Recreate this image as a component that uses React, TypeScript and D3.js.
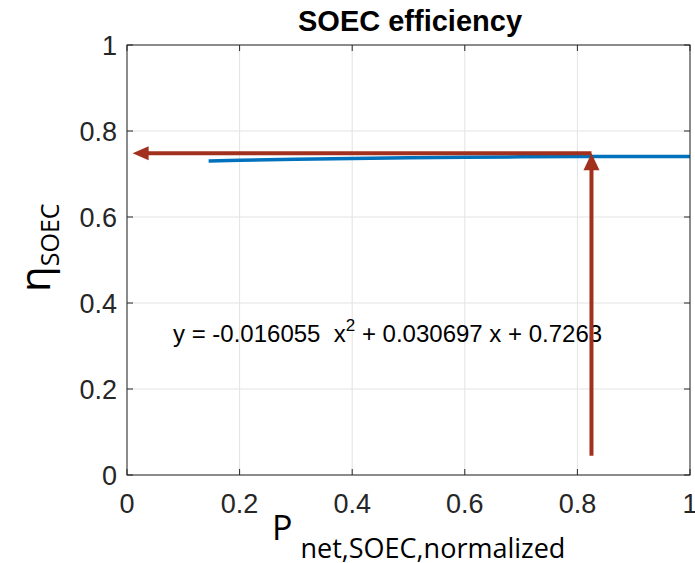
import React from 'react';
import * as d3 from 'd3';

// fitted efficiency curve
const curveX = [0.145, 0.2, 0.3, 0.4, 0.5, 0.6, 0.7, 0.8, 0.9, 1.0];
const curveY = [0.7304, 0.7319, 0.7341, 0.7360, 0.7376, 0.7389, 0.7399, 0.7406, 0.7409, 0.7409];

// red guide arrows
const operatingX = 0.825;
const operatingY = 0.748;
const arrowStartY = 0.045;
const arrowEndX = 0.01;

const xTicks = [0, 0.2, 0.4, 0.6, 0.8, 1];
const yTicks = [0, 0.2, 0.4, 0.6, 0.8, 1];

const titleText = 'SOEC efficiency';
const equationText = 'y = -0.016055\u00a0\u00a0x';
const equationRest = ' + 0.030697 x + 0.7263';

const W = 695;
const H = 563;
const m = { left: 127, right: 5, top: 45, bottom: 88 };

export default function App() {
  const x = d3.scaleLinear().domain([0, 1]).range([m.left, W - m.right]);
  const y = d3.scaleLinear().domain([0, 1]).range([H - m.bottom, m.top]);

  const line = d3
    .line<number>()
    .x((d, i) => x(curveX[i]))
    .y(d => y(d));

  const red = '#A2301F';
  const axisColor = '#262626';
  const tickFont = 'Liberation Sans, Arial, sans-serif';

  const ax = x(operatingX);
  const ay = y(operatingY);

  return (
    <svg width={W} height={H} style={{ position: 'absolute', left: 0, top: 0 }}>
      <rect x={0} y={0} width={W} height={H} fill="#fff" />
      {/* grid */}
      {xTicks.map(t => (
        <line key={'gx' + t} x1={x(t)} x2={x(t)} y1={y(0)} y2={y(1)} stroke="#e3e3e3" strokeWidth={1} />
      ))}
      {yTicks.map(t => (
        <line key={'gy' + t} x1={x(0)} x2={x(1)} y1={y(t)} y2={y(t)} stroke="#e3e3e3" strokeWidth={1} />
      ))}
      {/* equation text */}
      <text x={173} y={342} fontFamily={tickFont} fontSize={24} fill="#000">
        {equationText}
        <tspan dy={-11} fontSize={17}>2</tspan>
        <tspan dy={11}>{equationRest}</tspan>
      </text>
      {/* curve */}
      <path d={line(curveY) || ''} fill="none" stroke="#0072BD" strokeWidth={3.5} />
      {/* arrows */}
      <line x1={ax} x2={x(arrowEndX) + 14} y1={ay} y2={ay} stroke={red} strokeWidth={4} />
      <path d={`M${x(arrowEndX)},${ay} L${x(arrowEndX) + 16},${ay - 7} L${x(arrowEndX) + 16},${ay + 7} Z`} fill={red} />
      <line x1={ax} x2={ax} y1={y(arrowStartY)} y2={ay + 14} stroke={red} strokeWidth={4} />
      <path d={`M${ax},${ay} L${ax - 8},${ay + 17} L${ax + 8},${ay + 17} Z`} fill={red} />
      {/* box + ticks */}
      <rect x={x(0)} y={y(1)} width={x(1) - x(0)} height={y(0) - y(1)} fill="none" stroke={axisColor} strokeWidth={1} />
      {xTicks.map(t => (
        <g key={'tx' + t}>
          <line x1={x(t)} x2={x(t)} y1={y(0)} y2={y(0) - 6} stroke={axisColor} />
          <line x1={x(t)} x2={x(t)} y1={y(1)} y2={y(1) + 6} stroke={axisColor} />
          <text x={x(t)} y={y(0) + 38} textAnchor="middle" fontFamily={tickFont} fontSize={27} fill="#262626">
            {d3.format('~g')(t)}
          </text>
        </g>
      ))}
      {yTicks.map(t => (
        <g key={'ty' + t}>
          <line x1={x(0)} x2={x(0) + 6} y1={y(t)} y2={y(t)} stroke={axisColor} />
          <line x1={x(1)} x2={x(1) - 6} y1={y(t)} y2={y(t)} stroke={axisColor} />
          <text x={x(0) - 10} y={y(t) + 10} textAnchor="end" fontFamily={tickFont} fontSize={27} fill="#262626">
            {d3.format('~g')(t)}
          </text>
        </g>
      ))}
      {/* title */}
      <text x={410} y={31} textAnchor="middle" fontFamily={tickFont} fontWeight="bold" fontSize={29} fill="#000">
        {titleText}
      </text>
      {/* x label */}
      <text x={272} y={540} fontFamily="Open Sans, sans-serif" fontSize={34} fill="#000">
        P
        <tspan dx={8} dy={18} fontSize={27}>net,SOEC,normalized</tspan>
      </text>
      {/* y label */}
      <text transform={`translate(50,292) rotate(-90)`} fontFamily="Open Sans, sans-serif" fontSize={42} fill="#000">
        η
        <tspan dy={9} fontSize={25}>SOEC</tspan>
      </text>
    </svg>
  );
}
